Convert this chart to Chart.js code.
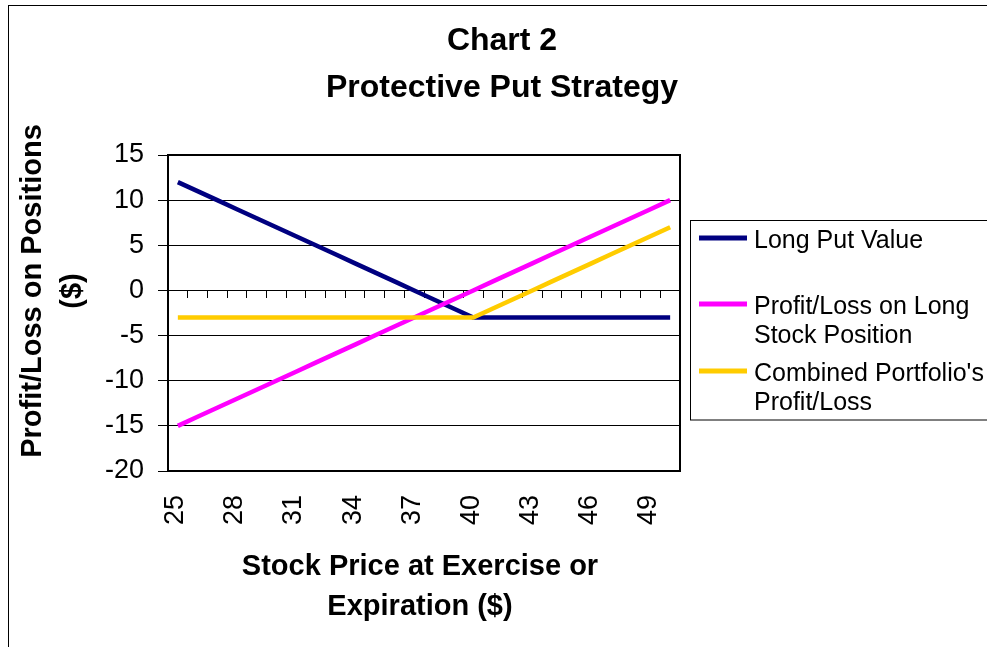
<!DOCTYPE html>
<html>
<head>
<meta charset="utf-8">
<title>Chart 2 - Protective Put Strategy</title>
<script src="https://cdn.jsdelivr.net/npm/chart.js@4/dist/chart.umd.min.js"></script>
<style>
  html, body { margin: 0; padding: 0; background: #fff; overflow: hidden; }
  #frame {
    position: absolute; left: 8px; top: 5px;
    width: 1000px; height: 670px;
    border: 1px solid #000; box-sizing: border-box;
  }
  #chart { position: absolute; left: 0; top: 0; }
</style>
</head>
<body>
<div id="frame">
  <canvas id="chart" width="986" height="654"></canvas>
</div>
<script>
/* global Chart */

const FONT = '"Liberation Sans", Arial, sans-serif';

// stock price at expiration
const prices = [25, 26, 27, 28, 29, 30, 31, 32, 33, 34, 35, 36, 37,
  38, 39, 40, 41, 42, 43, 44, 45, 46, 47, 48, 49, 50];

const longPut = [12, 11, 10, 9, 8, 7, 6, 5, 4, 3, 2, 1, 0,
  -1, -2, -3, -3, -3, -3, -3, -3, -3, -3, -3, -3, -3];

const longStock = [-15, -14, -13, -12, -11, -10, -9, -8, -7, -6, -5, -4, -3,
  -2, -1, 0, 1, 2, 3, 4, 5, 6, 7, 8, 9, 10];

const combined = [-3, -3, -3, -3, -3, -3, -3, -3, -3, -3, -3, -3, -3,
  -3, -3, -3, -2, -1, 0, 1, 2, 3, 4, 5, 6, 7];

const seriesNames = ['Long Put Value', 'Profit/Loss on Long Stock Position', "Combined Portfolio's Profit/Loss"];
const seriesColors = ['#000080', '#FF00FF', '#FFCC00'];
// legend text as it wraps in the original
const legendLines = [['Long Put Value'], ['Profit/Loss on Long', 'Stock Position'], ["Combined Portfolio's", 'Profit/Loss']];

const titleLines = ['Chart 2', 'Protective Put Strategy'];
const yTitleLines = ['Profit/Loss on Positions', '($)'];
const xTitleLines = ['Stock Price at Exercise or', 'Expiration ($)'];

const yMin = -20, yMax = 15, yStep = 5;
const xLabelEvery = 3;

// box round the plot area
const plotBorder = {
  id: 'plotBorder',
  afterDatasetsDraw(chart) {
    const { ctx, chartArea: a } = chart;
    ctx.save();
    ctx.strokeStyle = '#000';
    ctx.lineWidth = 2;
    ctx.strokeRect(a.left, a.top, a.right - a.left, a.bottom - a.top);
    ctx.restore();
  }
};

// main title + axis titles, placed like the excel chart
// (main title is centred on the whole frame, y title is not centred on the axis)
const chartTexts = {
  id: 'chartTexts',
  afterDraw(chart) {
    const { ctx } = chart;
    ctx.save();
    ctx.fillStyle = '#000';
    ctx.textAlign = 'center';
    ctx.textBaseline = 'middle';

    ctx.font = 'bold 32px ' + FONT;
    titleLines.forEach((t, i) => ctx.fillText(t, 493, 35 + i * 47));

    ctx.font = 'bold 29px ' + FONT;
    ctx.save();
    ctx.translate(24, 285);
    ctx.rotate(-Math.PI / 2);
    yTitleLines.forEach((t, i) => ctx.fillText(t, 0, i * 40));
    ctx.restore();

    xTitleLines.forEach((t, i) => ctx.fillText(t, 411, 561 + i * 40));
    ctx.restore();
  }
};

// legend box to the right of the plot
const sideLegend = {
  id: 'sideLegend',
  afterDraw(chart) {
    const { ctx } = chart;
    const box = { x: 681.5, y: 214.5, w: 400, h: 199.5 };
    const sampleY = [232, 298, 365];
    ctx.save();
    ctx.strokeStyle = '#000';
    ctx.lineWidth = 1;
    ctx.strokeRect(box.x, box.y, box.w, box.h);

    ctx.font = '25px ' + FONT;
    ctx.textAlign = 'left';
    ctx.textBaseline = 'middle';
    chart.data.datasets.forEach((ds, i) => {
      const y = sampleY[i];
      ctx.strokeStyle = ds.borderColor;
      ctx.lineWidth = 5;
      ctx.beginPath();
      ctx.moveTo(690, y);
      ctx.lineTo(738, y);
      ctx.stroke();
      ctx.fillStyle = '#000';
      legendLines[i].forEach((t, j) => ctx.fillText(t, 745, y + 3 + j * 29));
    });
    ctx.restore();
  }
};

function makeDataset(i, data, order) {
  return {
    label: seriesNames[i],
    data,
    borderColor: seriesColors[i],
    backgroundColor: seriesColors[i],
    borderWidth: 4.5,
    pointRadius: 0,
    pointHoverRadius: 0,
    tension: 0,
    fill: false,
    order
  };
}

function buildChart() {
  const ctx = document.getElementById('chart').getContext('2d');
  return new Chart(ctx, {
    type: 'line',
    data: {
      labels: prices,
      datasets: [
        makeDataset(0, longPut, 2),
        makeDataset(1, longStock, 1),
        makeDataset(2, combined, 0)
      ]
    },
    options: {
      responsive: false,
      animation: false,
      events: [],
      layout: { padding: { left: 0, right: 315, top: 149, bottom: 0 } },
      plugins: {
        legend: { display: false },
        tooltip: { enabled: false },
        title: { display: false }
      },
      scales: {
        x: {
          type: 'category',
          position: 'bottom',
          offset: true,
          grid: { display: false, drawTicks: false },
          border: { display: false },
          ticks: {
            autoSkip: false,
            minRotation: 90,
            maxRotation: 90,
            padding: 24,
            labelOffset: -2,
            color: '#000',
            font: { family: FONT, size: 27 },
            callback(value, index) {
              return index % xLabelEvery === 0 ? String(prices[index]) : '';
            }
          },
          afterFit(scale) { scale.height = 189; }
        },
        // tick marks along the zero line
        x0: {
          type: 'category',
          labels: prices,
          position: { y: 0 },
          offset: true,
          grid: { offset: true, drawOnChartArea: false, drawTicks: true, tickLength: 8, color: '#000', lineWidth: 1 },
          border: { display: false },
          ticks: { display: false }
        },
        y: {
          min: yMin,
          max: yMax,
          position: 'left',
          grid: { color: '#000', lineWidth: 1, tickLength: 10, drawTicks: true },
          border: { display: false },
          ticks: {
            stepSize: yStep,
            padding: 14,
            color: '#000',
            font: { family: FONT, size: 27 }
          },
          afterFit(scale) { scale.width = 159; }
        }
      }
    },
    plugins: [plotBorder, chartTexts, sideLegend]
  });
}

document.addEventListener('DOMContentLoaded', buildChart);
</script>
</body>
</html>
